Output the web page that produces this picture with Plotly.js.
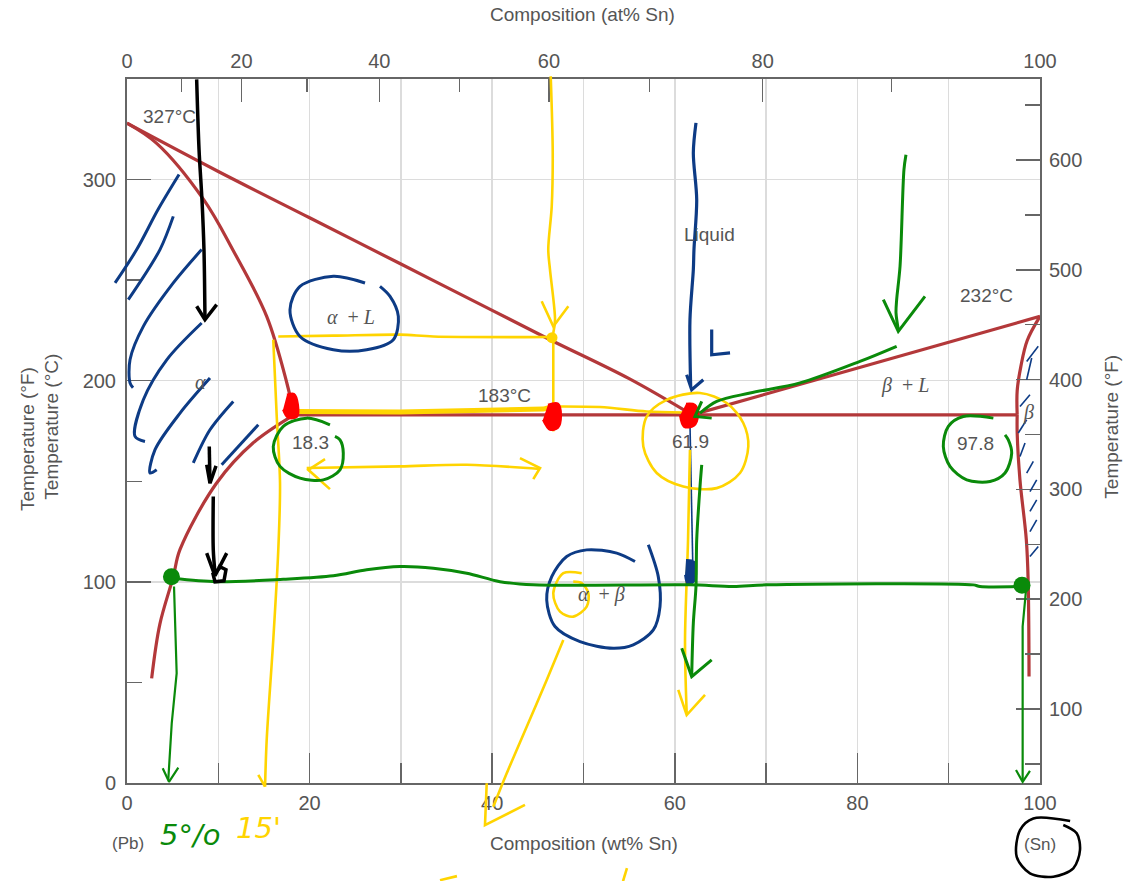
<!DOCTYPE html>
<html><head><meta charset="utf-8">
<script src="https://cdn.plot.ly/plotly-3.0.1.min.js"></script>
<style>html,body{margin:0;padding:0;background:#fff}#chart{width:1142px;height:881px}</style>
</head><body><div id="chart"></div>
<script>
// ---------- Phase boundaries (wt% Sn, °C) ----------
const liquidusLeftX = [0, 10, 20, 30, 40, 46.5, 55, 61.9];
const liquidusLeftT = [328, 304, 281, 258, 235, 220, 201, 183];
const solidusAlphaX = [0, 3.25, 8.4, 11.6, 15.3, 17.5, 18.3];
const solidusAlphaT = [328, 318, 290, 265, 232, 199, 183];
const solvusAlphaX = [18.3, 13.8, 9.8, 5.8, 5.07, 3.6, 2.7];
const solvusAlphaT = [183, 169, 149, 116, 102.6, 79, 52];
const eutecticX = [18.3, 97.5];
const eutecticT = [183, 183];
const liquidusRightX = [61.9, 100];
const liquidusRightT = [183, 232];
const solidusBetaX = [100, 98.6, 97.9, 97.5, 97.5];
const solidusBetaT = [232, 220, 207, 195, 183];
const solvusBetaX = [97.5, 97.5, 97.8, 98.5, 98.7, 98.8];
const solvusBetaT = [183, 174, 151, 121, 101, 53];

// ---------- Axis tick values ----------
const atPctMajor = [0, 20, 40, 60, 80, 100];
const atPctMinor = [10, 30, 50, 70, 90];
const massSn = 118.71, massPb = 207.2;

// ---------- Region labels ----------
const regionText = ['327°C', 'Liquid', '183°C', '18.3', '61.9', '97.8', '232°C'];
const regionX = [4.6, 63.85, 41.35, 20.13, 61.72, 92.97, 94.19];
const regionT = [331.3, 272.6, 192.5, 169.3, 169.8, 169.0, 242.3];
const greekText = ['<i>α</i>  + <i>L</i>', '<i>α</i>', '<i>β</i>  + <i>L</i>', '<i>β</i>', '<i>α</i>  + <i>β</i>'];
const greekX = [24.53, 8.0, 85.21, 98.69, 51.95];
const greekT = [231.8, 199.5, 197.5, 184.1, 93.5];
const endText = ['(Pb)', '(Sn)'];
const endX = [0.11, 100];
const endT = [-29.9, -30.8];

// ---------- Hand-drawn marks (wt% Sn, °C) ----------
const blackShaftX = [7.63,7.89,8.21,8.43,8.54,null,9.01,9.09,null,9.45,9.45,9.64];
const blackShaftT = [349.8,314.9,290.0,265.2,230.3,null,167.3,149.1,null,142.4,115.9,104.5];
const blackHeadX = [7.63,8.54,9.82,null,8.73,9.09,9.75,null,8.73,9.64,10.92,null,9.97,10.84,10.62,9.64,9.42,10.19];
const blackHeadT = [237.0,230.3,237.8,null,158.2,149.1,157.7,null,114.3,103.0,114.3,null,108.0,106.0,100.5,100.0,104.0,107.0];
const snRingX = [103.3,99.27,97.81,97.45,98.9,101.46,103.65,104.38,104.02,102.55];
const snRingT = [-18.9,-17.6,-23.4,-36.7,-44.9,-46.6,-42.4,-33.3,-25.0,-20.9];

const blueHatchX = [5.70,3.40,1.06,-1.31,null,5.07,3.61,0.14,null,8.18,5.07,1.79,0.33,0.33,0.66,null,8.18,4.35,1.79,0.88,1.97,null,9.09,5.81,3.07,2.52,3.25,null,11.64,9.09,7.26,null,14.38,10.37];
const blueHatchT = [302.5,285.1,265.2,248.6,null,281.7,265.2,240.3,null,265.2,248.6,227.0,210.4,198.9,196.5,null,228.7,210.4,190.5,172.3,169.8,null,201.3,183.9,165.7,154.1,155.7,null,189.7,175.6,159.1,null,178.1,158.2];
const blueRingX = [26.07,22.60,18.95,17.85,18.95,22.60,26.25,29.17,29.72,28.81,27.71,null,55.64,53.64,50.35,48.16,46.52,45.97,46.88,49.62,53.26,55.45,57.65,58.38,58.19,57.10];
const blueRingT = [248.6,251.9,246.9,235.3,222.0,215.4,215.4,220.4,232.0,241.9,246.9,null,110.1,114.3,115.9,112.6,102.6,91.0,77.8,70.3,67.0,68.7,76.1,87.7,102.6,118.4];
const blueArrowX = [62.32,62.03,62.40,62.10,62.03,61.66,61.74];
const blueArrowT = [328.2,313.3,290.0,265.2,255.2,230.3,197.2];
const blueHeadX = [61.30,61.85,63.12,null,64.04,64.04,66.05];
const blueHeadT = [203.0,195.5,200.5,null,225.4,212.9,213.8];
const blueThinX = [99.81,98.54,null,99.09,98.54,null,98.90,97.81,null,98.54,97.62,null,98.36,97.81,null,99.27,98.54,null,99.64,98.90,null,99.64,98.90,null,99.64,98.90,null,99.81,98.90,null,61.66,61.96];
const blueThinT = [217.1,209.6,null,211.3,200.5,null,193.0,187.2,null,180.6,174.0,null,169.0,162.3,null,159.9,154.1,null,150.7,144.9,null,140.8,135.0,null,130.8,125.0,null,117.6,112.6,null,179.1,110.9];
const blueBlobX = [61.23,62.10,62.21,61.45,61.12];
const blueBlobT = [110.9,110.0,101.0,98.5,103.5];

const yellowX = [46.41,46.63,46.52,46.14,46.33,46.88,46.69,null,46.69,46.69,null,16.57,22.60,29.90,33.55,46.33,null,16.02,16.40,16.76,16.57,16.02,15.30,15.12,null,46.69,51.81,56.92,60.93,null,19.68,29.90,37.21,45.24,null,62.76,59.11,56.92,56.55,58.02,60.93,64.59,67.14,68.05,67.50,65.68,62.76,null,61.66,61.45,61.12,61.30,null,49.80,47.79,46.69,47.43,48.88,50.35,50.53,49.80,48.88,null,47.79,45.97,43.78,41.59,40.12,null,34.28,36.14,null,54.76,54.33];
const yellowT = [351.4,313.3,286.7,265.2,255.2,230.3,223.7,null,220.4,174.8,null,222.0,222.4,222.9,222.0,221.7,null,220.4,182.2,149.1,115.9,71.1,21.4,-1.8,null,187.2,186.9,184.7,184.2,null,156.6,157.4,158.2,156.1,null,193.9,190.5,182.2,167.3,154.1,147.4,146.6,154.1,167.3,179.0,188.9,193.9,null,165.7,120.9,71.1,34.7,null,104.3,104.3,94.4,85.2,82.7,87.7,94.4,99.4,100.1,null,71.1,51.2,28.0,4.8,-11.8,null,-48.3,-46.3,null,-42.3,-48.8];
const yellowHeadX = [45.42,46.69,48.34,null,14.38,15.12,null,21.69,19.86,22.23,null,43.04,45.24,44.50,null,60.38,61.30,63.31,null,39.40,39.21,43.59];
const yellowHeadT = [239.5,227.0,237.0,null,4.0,-1.8,null,161.0,155.7,146.1,null,161.5,156.6,151.1,null,46.3,33.8,43.8,null,-0.1,-20.9,-10.9];
const yellowThickX = [18.59,29.90,45.60,46.69];
const yellowThickT = [184.7,184.4,185.9,187.2];
const yellowDotX = [46.55];
const yellowDotT = [221.4];

const redBlobX = [17.52,18.29,18.73,18.62,17.63,17.09,null,46.11,47.21,47.54,47.21,46.33,45.56,null,61.23,62.21,62.54,62.10,61.01,60.57];
const redBlobT = [193.0,193.5,188.1,182.1,181.6,185.6,null,188.1,188.6,182.6,176.6,175.6,180.6,null,188.6,188.1,183.1,177.6,177.1,182.6];

const greenX = [85.32,85.10,84.67,84.30,84.23,84.48,null,84.30,80.28,73.71,68.24,64.59,62.76,null,22.23,19.68,17.12,16.02,16.76,18.95,21.50,23.33,23.69,23.33,22.78,null,94.89,91.60,89.96,89.41,90.14,91.97,94.52,96.17,96.90,96.53,96.17,null,5.07,9.82,17.12,22.60,26.25,29.90,33.55,37.21,40.85,44.50,61.66,66.41,70.06,92.69,93.43,97.81,null,62.95,62.76,62.40,62.32,62.03,61.85];
const greenT = [312.4,305.0,256.9,240.3,233.7,225.4,null,217.1,209.6,198.9,193.9,189.7,183.9,null,178.1,181.4,177.3,167.3,157.4,151.6,150.7,155.7,164.0,170.6,172.3,null,181.4,182.2,177.3,167.3,157.4,150.7,149.9,154.1,164.0,170.6,173.1,null,101.8,100.1,101.3,103.0,106.0,107.6,106.8,104.3,100.1,98.5,98.5,97.7,98.5,98.5,97.7,97.7,null,158.2,147.4,120.9,97.7,79.5,52.9];
const greenHeadX = [82.84,84.48,87.40,null,62.95,62.21,64.04,null,60.76,61.85,64.04];
const greenHeadT = [240.3,224.5,241.9,null,189.7,182.2,181.4,null,67.0,52.9,61.2];
const greenThinX = [5.15,5.44,4.90,4.52,null,3.91,4.60,5.62,null,98.54,98.10,98.10,98.10,null,97.37,98.10,98.90];
const greenThinT = [97.7,54.6,29.7,1.5,null,7.3,0.6,7.6,null,99.4,77.8,54.6,1.5,null,6.5,0.6,6.0];
const greenDotX = [4.87, 98.03];
const greenDotT = [102.5, 98.3];

const handText = ['5°/o', "15'"];
const handX = [6.9, 14.35];
const handT = [-25.9, -22.4];
const handColor = ['#0a8a0a', '#ffd400'];

// ---------- Build ----------
function atToWt(a) { return 100 * a * massSn / (a * massSn + (100 - a) * massPb); }

const RED = '#b3383a', BLUE = '#0d3b85', YEL = '#ffd400', GRN = '#0a8a0a';
const xd = [127 / 1142, 1040 / 1142];
const yd = [1 - 783 / 881, 1 - 79 / 881];
const xr3 = [0 - 100 * xd[0] / (xd[1] - xd[0]), 100 + 100 * (1 - xd[1]) / (xd[1] - xd[0])];
const yr3 = [0 - 350 * yd[0] / (yd[1] - yd[0]), 350 + 350 * (1 - yd[1]) / (yd[1] - yd[0])];

function phase(x, y, shape) {
  return {type: 'scatter', mode: 'lines', x: x, y: y, xaxis: 'x', yaxis: 'y',
    line: {color: RED, width: 3.2, shape: shape || 'linear', smoothing: 1}, hoverinfo: 'skip'};
}
function ink(x, y, color, width, shape) {
  return {type: 'scatter', mode: 'lines', x: x, y: y, xaxis: 'x3', yaxis: 'y3',
    line: {color: color, width: width, shape: shape || 'linear', smoothing: 0.9}, connectgaps: false, hoverinfo: 'skip'};
}
function blob(x, y, color) {
  return {type: 'scatter', mode: 'lines', x: x, y: y, xaxis: 'x3', yaxis: 'y3', fill: 'toself',
    fillcolor: color, line: {color: color, width: 2, shape: 'spline'}, hoverinfo: 'skip'};
}
function dots(x, y, color, size) {
  return {type: 'scatter', mode: 'markers', x: x, y: y, xaxis: 'x3', yaxis: 'y3',
    marker: {color: color, size: size}, hoverinfo: 'skip'};
}

const traces = [
  phase(liquidusLeftX, liquidusLeftT, 'spline'),
  phase(solidusAlphaX, solidusAlphaT, 'spline'),
  phase(solvusAlphaX, solvusAlphaT, 'spline'),
  phase(eutecticX, eutecticT),
  phase(liquidusRightX, liquidusRightT),
  phase(solidusBetaX, solidusBetaT, 'spline'),
  phase(solvusBetaX, solvusBetaT, 'spline'),
  {type: 'scatter', mode: 'markers', x: [null], y: [null], xaxis: 'x2', yaxis: 'y2', hoverinfo: 'skip'},
  ink(blueHatchX, blueHatchT, BLUE, 3, 'spline'),
  ink(blueThinX, blueThinT, BLUE, 1.6),
  ink(yellowX, yellowT, YEL, 2.6, 'spline'),
  ink(yellowHeadX, yellowHeadT, YEL, 2.6),
  ink(yellowThickX, yellowThickT, YEL, 5),
  dots(yellowDotX, yellowDotT, YEL, 11),
  ink(blueRingX, blueRingT, BLUE, 3, 'spline'),
  ink(blueArrowX, blueArrowT, BLUE, 3.2, 'spline'),
  ink(blueHeadX, blueHeadT, BLUE, 3.2),
  blob(blueBlobX, blueBlobT, BLUE),
  blob(redBlobX, redBlobT, '#ff0000'),
  ink(greenX, greenT, GRN, 3, 'spline'),
  ink(greenHeadX, greenHeadT, GRN, 3),
  ink(greenThinX, greenThinT, GRN, 2.2),
  dots(greenDotX, greenDotT, GRN, 17),
  ink(blackShaftX, blackShaftT, '#000', 3.5, 'spline'),
  ink(blackHeadX, blackHeadT, '#000', 3.5),
  ink(snRingX, snRingT, '#000', 2.6, 'spline')
];

const SANS = 'Liberation Sans, Arial, sans-serif';
const SERIF = 'Liberation Serif, Times New Roman, serif';
const TXT = '#555';
const annotations = [];
const base = {showarrow: false, xanchor: 'center', yanchor: 'middle'};
regionText.forEach((t, i) => annotations.push(Object.assign({}, base, {text: t, x: regionX[i], y: regionT[i], xref: 'x', yref: 'y',
  font: {family: SANS, size: 19, color: TXT}})));
greekText.forEach((t, i) => annotations.push(Object.assign({}, base, {text: t, x: greekX[i], y: greekT[i], xref: 'x', yref: 'y',
  font: {family: SERIF, size: 20, color: TXT}})));
endText.forEach((t, i) => annotations.push(Object.assign({}, base, {text: t, x: endX[i], y: endT[i], xref: 'x3', yref: 'y3',
  font: {family: SANS, size: 17, color: TXT}})));
handText.forEach((t, i) => annotations.push(Object.assign({}, base, {text: '<i>' + t + '</i>', x: handX[i], y: handT[i], xref: 'x3', yref: 'y3',
  font: {family: 'DejaVu Sans, sans-serif', size: 29, color: handColor[i]}})));
const titleFont = {family: SANS, size: 19, color: TXT};
annotations.push(
  Object.assign({}, base, {text: 'Composition (at% Sn)', x: 0.5105, y: 0.983, xref: 'paper', yref: 'paper', font: titleFont}),
  Object.assign({}, base, {text: 'Composition (wt% Sn)', x: 0.5114, y: 0.042, xref: 'paper', yref: 'paper', font: titleFont}),
  Object.assign({}, base, {text: 'Temperature (°F)', x: 0.0236, y: 0.5017, xref: 'paper', yref: 'paper', textangle: -90, font: titleFont}),
  Object.assign({}, base, {text: 'Temperature (°C)', x: 0.0455, y: 0.5157, xref: 'paper', yref: 'paper', textangle: -90, font: titleFont}),
  Object.assign({}, base, {text: 'Temperature (°F)', x: 0.9737, y: 0.5157, xref: 'paper', yref: 'paper', textangle: -90, font: titleFont})
);

const AX = '#666', GRID = '#dcdcdc';
const tickFont = {family: SANS, size: 20, color: TXT};
const layout = {
  width: 1142, height: 881,
  margin: {l: 0, r: 0, t: 0, b: 0, pad: 0},
  paper_bgcolor: '#fff', plot_bgcolor: 'rgba(0,0,0,0)',
  showlegend: false, hovermode: false,
  font: {family: SANS, color: TXT},
  xaxis: {domain: xd, range: [0, 100], anchor: 'y', tick0: 0, dtick: 20, ticks: 'inside', ticklen: 30,
    tickwidth: 1.5, tickcolor: AX, showline: true, linecolor: AX, linewidth: 2, showgrid: true,
    gridcolor: GRID, gridwidth: 1.5, zeroline: false, tickfont: tickFont, ticklabelstandoff: 1,
    minor: {dtick: 10, ticks: 'inside', ticklen: 20, tickwidth: 1.5, tickcolor: AX, showgrid: true, gridcolor: GRID, gridwidth: 1.5},
    fixedrange: true},
  xaxis2: {overlaying: 'x', side: 'top', anchor: 'y', range: [0, 100], tickmode: 'array',
    tickvals: atPctMajor.map(atToWt), ticktext: atPctMajor.map(String), ticks: 'inside', ticklen: 23,
    tickwidth: 1.5, tickcolor: AX, showline: true, linecolor: AX, linewidth: 2, showgrid: false,
    zeroline: false, tickfont: tickFont, ticklabelstandoff: 1,
    minor: {tickmode: 'array', tickvals: atPctMinor.map(atToWt), ticks: 'inside', ticklen: 13, tickwidth: 1.5, tickcolor: AX, showgrid: false},
    fixedrange: true},
  yaxis: {domain: yd, range: [0, 350], anchor: 'x', tick0: 0, dtick: 100, ticks: 'inside', ticklen: 24,
    tickwidth: 1.5, tickcolor: AX, showline: true, linecolor: AX, linewidth: 2, showgrid: true,
    gridcolor: GRID, gridwidth: 1.5, zeroline: false, tickfont: tickFont, ticklabelstandoff: 5,
    minor: {dtick: 50, ticks: 'inside', ticklen: 15, tickwidth: 1.5, tickcolor: AX, showgrid: false},
    fixedrange: true},
  yaxis2: {overlaying: 'y', side: 'right', anchor: 'x', range: [32.6, 673.8], tick0: 0, dtick: 100,
    ticks: 'inside', ticklen: 24, tickwidth: 1.5, tickcolor: AX, showline: true, linecolor: AX, linewidth: 2,
    showgrid: false, zeroline: false, tickfont: tickFont, ticklabelstandoff: 3,
    minor: {dtick: 50, ticks: 'inside', ticklen: 15, tickwidth: 1.5, tickcolor: AX, showgrid: false},
    fixedrange: true},
  xaxis3: {domain: [0, 1], range: xr3, anchor: 'y3', visible: false, fixedrange: true},
  yaxis3: {domain: [0, 1], range: yr3, anchor: 'x3', visible: false, fixedrange: true},
  annotations: annotations
};

Plotly.newPlot('chart', traces, layout, {staticPlot: true, displayModeBar: false});
</script></body></html>
